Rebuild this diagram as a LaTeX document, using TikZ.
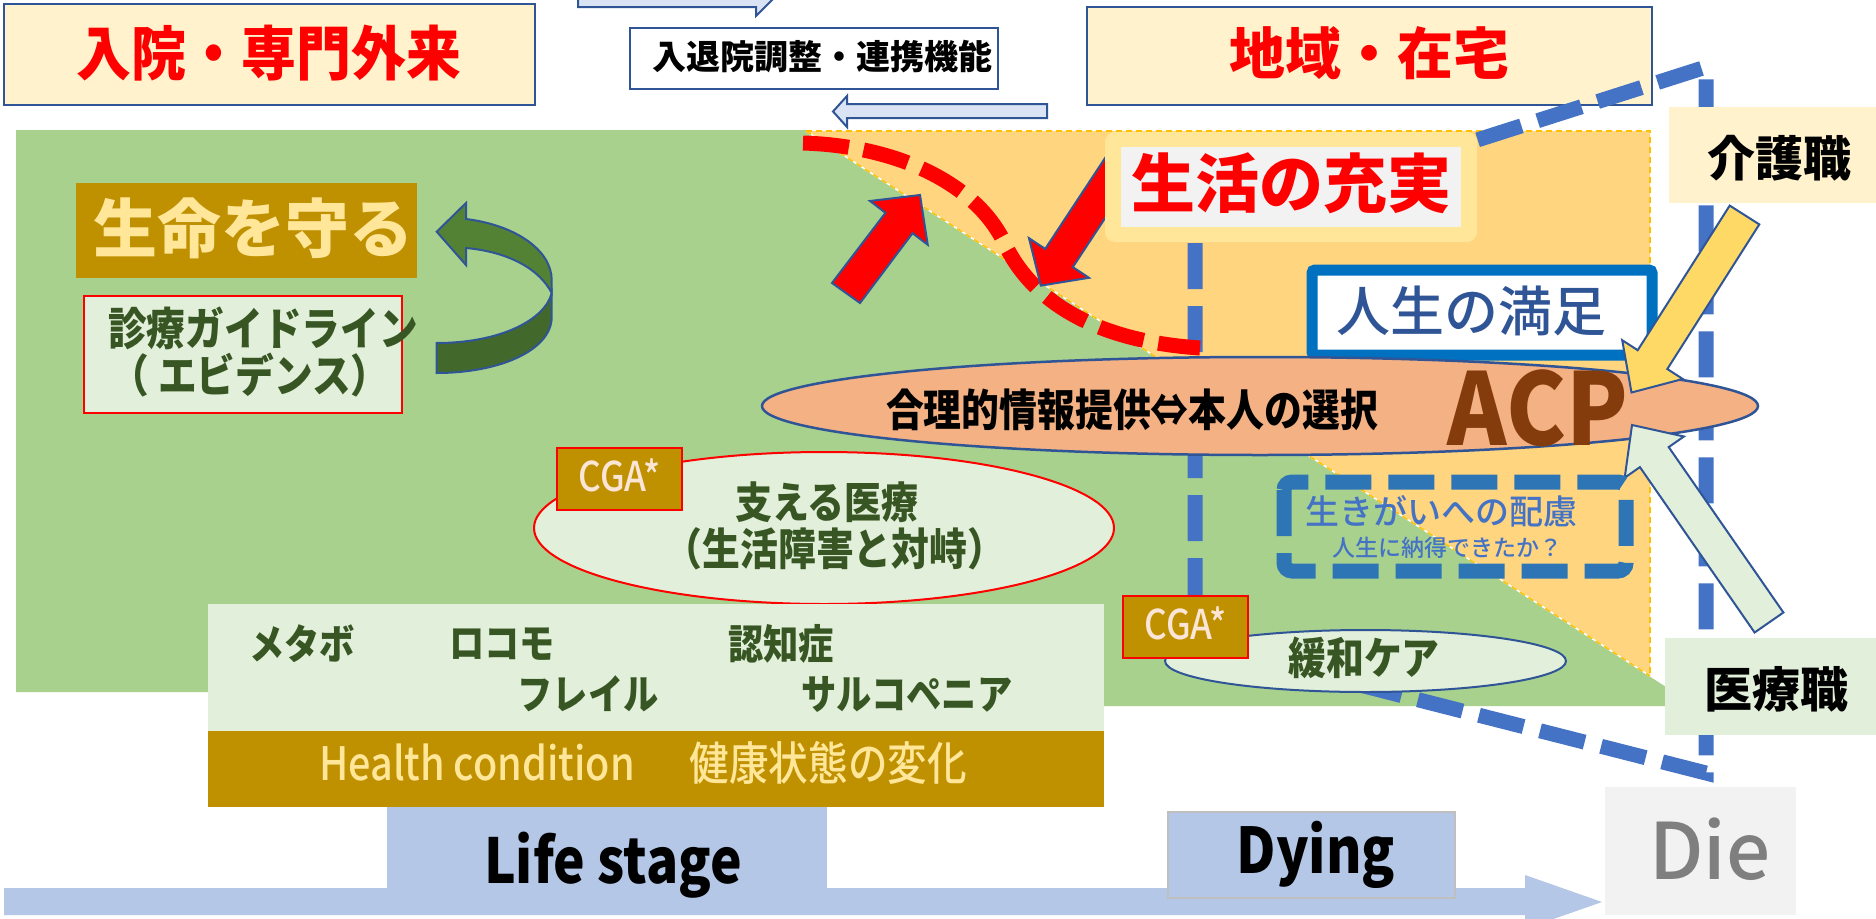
\documentclass[tikz,border=0pt]{standalone}
\usepackage{fontspec}
\usetikzlibrary{shapes.geometric}
\setmainfont{Noto Sans CJK JP}
\newfontfamily\jpc{Noto Sans CJK JP}[FakeStretch=0.86]
\newfontfamily\jpa{Noto Sans CJK JP}[FakeStretch=0.9]
\newfontfamily\jpw{Noto Sans CJK JP}[FakeStretch=0.93]
\newfontfamily\jpm{Noto Sans CJK JP Medium}
\newfontfamily\jpcm{Noto Sans CJK JP Medium}[FakeStretch=0.86]
\newcommand\myfs[1]{\fontsize{#1pt}{#1pt}\selectfont}
\definecolor{bordblue}{HTML}{2F5597}
\definecolor{cream}{HTML}{FFF2CC}
\definecolor{arrowblue}{HTML}{DAE3F3}
\definecolor{greenbg}{HTML}{A9D18E}
\definecolor{orangebg}{HTML}{FFD580}
\definecolor{yelborder}{HTML}{FFC000}
\definecolor{lifeyellow}{HTML}{FFE699}
\definecolor{lightgrey}{HTML}{F2F2F2}
\definecolor{satblue}{HTML}{0070C0}
\definecolor{acpfill}{HTML}{F4B183}
\definecolor{acptext}{HTML}{843C0C}
\definecolor{gold}{HTML}{BF9000}
\definecolor{palegreen}{HTML}{E2EFDA}
\definecolor{darkgreen}{HTML}{375623}
\definecolor{cgatext}{HTML}{FBE5D6}
\definecolor{dashblue}{HTML}{4472C4}
\definecolor{ikigai}{HTML}{2E75B6}
\definecolor{darrowa}{HTML}{548235}
\definecolor{darrowb}{HTML}{43682B}
\definecolor{yelarrow}{HTML}{FFD966}
\definecolor{timeline}{HTML}{B4C7E7}
\definecolor{diegrey}{HTML}{7F7F7F}
\definecolor{dyingborder}{HTML}{BFBFBF}
\tikzset{
  lbl/.style={inner sep=0pt, outer sep=0pt},
  tbox/.style={draw=bordblue, line width=2.5pt, fill=cream, inner sep=0pt},
  blockarrow/.style={draw=bordblue, line width=2pt, line join=miter},
  bluedash/.style={draw=dashblue, line width=15pt, dash pattern=on 46pt off 17pt, line join=miter},
  reddash/.style={draw=red, line width=15pt, dash pattern=on 46pt off 15pt},
  pell/.style={ellipse, inner sep=0pt, line width=2pt},
  cga/.style={fill=gold, draw=red, line width=2pt, inner sep=0pt, minimum width=125pt, minimum height=62pt},
}
\begin{document}
\begin{tikzpicture}[x=1pt,y=-1pt]
\useasboundingbox (0,0) rectangle (1876,918);
\fill[white] (0,0) rectangle (1876,918);
\begin{scope}
\clip (0,0) rectangle (1876,918);

% background regions
\fill[greenbg] (16,130) -- (806,130) -- (1666,687) -- (1666,706) -- (208,706) -- (208,692) -- (16,692) -- cycle;
\fill[orangebg] (806,131) -- (1650,131) -- (1650,676) -- cycle;
\draw[white, line width=1.5pt] (806,131) -- (1650,676);
\draw[yelborder, line width=1.5pt, dash pattern=on 6pt off 4pt] (806,131) -- (1650,131) -- (1650,676);
\draw[yelborder, line width=1.5pt, dash pattern=on 6pt off 4pt] (806,131) -- (1650,676);

% top boxes
\node[tbox, minimum width=531pt, minimum height=101pt] (hosp) at (269.5,54.5) {};
\node[lbl, font=\jpw\myfs{59}\bfseries, text=red] (hospT) at (269,53) {入院・専門外来};
\node[tbox, minimum width=565pt, minimum height=98pt] (region) at (1369.5,56) {};
\node[lbl, font=\myfs{56}\bfseries, text=red] (regionT) at (1369,53) {地域・在宅};
\node[draw=bordblue, line width=2pt, fill=white, inner sep=0pt, minimum width=368pt, minimum height=61pt] (coord) at (814,58.5) {};
\node[lbl, font=\myfs{34}\bfseries] (coordT) at (822,57) {入退院調整・連携機能};

% small arrows at top
\filldraw[blockarrow, fill=arrowblue] (578,-9) -- (756,-9) -- (756,-18) -- (773,-1) -- (756,16) -- (756,7) -- (578,7) -- cycle;
\filldraw[blockarrow, fill=arrowblue] (1047,104) -- (847,104) -- (847,96) -- (833,111.5) -- (847,127) -- (847,118) -- (1047,118) -- cycle;

% blue dashed trapezoid
\draw[bluedash] (1195,243) -- (1195,643) -- (1706,773) -- (1706,67) -- (1195,230);

% red dashed curve
\draw[reddash] (803,143) .. controls (900,146) and (975,185) .. (1003,240) .. controls (1025,290) and (1080,340) .. (1200,348);

% red block arrows
\filldraw[blockarrow, fill=red] (832,283) -- (885.5,212.8) -- (870,201) -- (920,195) -- (927.7,244.7) -- (912.5,233.2) -- (860,303) -- cycle;
\filldraw[blockarrow, fill=red] (1111.2,148.7) -- (1045.2,248.9) -- (1029,238.2) -- (1040.8,285.6) -- (1089,277.8) -- (1072.8,267.1) -- (1138.8,166.9) -- cycle;

% 生活の充実
\node[fill=lifeyellow, rounded corners=10pt, inner sep=0pt, minimum width=372pt, minimum height=110pt] (lifeOuter) at (1291,187) {};
\node[fill=lightgrey, inner sep=0pt, minimum width=340pt, minimum height=80pt] (lifeInner) at (1291,187) {};
\node[lbl, font=\myfs{64}\bfseries, text=red] (lifeT) at (1291,183) {生活の充実};

% 人生の満足
\node[draw=satblue, line width=11pt, fill=white, rounded corners=3pt, inner sep=0pt, minimum width=340pt, minimum height=85pt] (satisf) at (1482,312.5) {};
\node[lbl, font=\jpm\myfs{54}, text=bordblue] (satisfT) at (1471,311) {人生の満足};

% side boxes
\node[fill=cream, inner sep=0pt, minimum width=221pt, minimum height=96pt] (care) at (1779.5,155) {};
\node[lbl, font=\myfs{48}\bfseries] (careT) at (1779,158) {介護職};
\node[fill=palegreen, inner sep=0pt, minimum width=225pt, minimum height=97pt] (med) at (1777.5,686.5) {};
\node[lbl, font=\myfs{48}\bfseries] (medT) at (1776,689) {医療職};

% ACP ellipse
\node[pell, fill=acpfill, draw=bordblue, line width=2.5pt, minimum width=996pt, minimum height=98pt] (acp) at (1260,406) {};
\node[lbl, font=\jpc\myfs{44}\bfseries] (acpT) at (1132,410) {合理的情報提供⇔本人の選択};
\node[lbl, font=\jpa\myfs{100}\bfseries, text=acptext, anchor=base] (acpL) at (1538,445) {ACP};

% arrows to ACP
\filldraw[blockarrow, fill=yelarrow] (1729.7,205.6) -- (1637.7,350.2) -- (1622.2,340.2) -- (1631.5,392.5) -- (1682.8,379) -- (1667.3,369) -- (1759.3,224.4) -- cycle;
\filldraw[blockarrow, fill=palegreen] (1754.6,632.5) -- (1639.9,467.1) -- (1624.7,477.7) -- (1632,425) -- (1683.9,436.5) -- (1668.7,447.1) -- (1783.4,612.5) -- cycle;

% 生命を守る
\node[fill=gold, inner sep=0pt, minimum width=341pt, minimum height=95pt] (protect) at (246.5,230.5) {};
\node[lbl, font=\myfs{64}\bfseries, text=lifeyellow] (protectT) at (253,228) {生命を守る};

% guideline box
\node[fill=palegreen, draw=red, line width=2pt, inner sep=0pt, minimum width=318pt, minimum height=117pt] (guide) at (243,354.5) {};
\node[lbl, font=\jpc\myfs{45}\bfseries, text=darkgreen] (guideT1) at (263,328) {診療ガイドライン};
\node[lbl, font=\jpc\myfs{45}\bfseries, text=darkgreen] (guideT2) at (250,375) {（ エビデンス）};

% curved arrow
\filldraw[blockarrow, fill=darrowb] (551.7,293) -- (551.7,317) .. controls (551.7,350) and (500,373) .. (436.7,373) -- (436.7,343) .. controls (500,343) and (545,320) .. (551.7,293) -- cycle;
\filldraw[blockarrow, fill=darrowa] (466,219) -- (466,203) -- (436.7,231.7) -- (466,265) -- (466,248) .. controls (510,252) and (540,270) .. (551.7,293) -- (551.7,280) .. controls (551.7,250) and (515,225) .. (466,219) -- cycle;

% 支える医療
\node[pell, fill=palegreen, draw=red, minimum width=580pt, minimum height=152pt] (support) at (824,528) {};
\node[lbl, font=\jpc\myfs{43}\bfseries, text=darkgreen] (supportT1) at (827,502) {支える医療};
\node[lbl, font=\jpc\myfs{44}\bfseries, text=darkgreen] (supportT2) at (835,549) {（生活障害と対峙）};
\node[cga] (cga1) at (619.5,479) {};
\node[lbl, font=\jpcm\myfs{41}, text=cgatext, anchor=base] (cga1T) at (619.5,491) {CGA*};

% 生きがい
\draw[draw=ikigai, line width=15pt, dash pattern=on 46pt off 17pt, rounded corners=8pt] (1284,482) rectangle (1626,571);
\node[lbl, font=\jpm\myfs{34}, text=dashblue] (ikigaiT1) at (1441,511) {生きがいへの配慮};
\node[lbl, font=\jpm\myfs{23}, text=dashblue] (ikigaiT2) at (1447,548) {人生に納得できたか？};

% 緩和ケア
\node[pell, fill=palegreen, draw=bordblue, minimum width=401pt, minimum height=62pt] (palli) at (1365.5,661) {};
\node[lbl, font=\jpc\myfs{44}\bfseries, text=darkgreen] (palliT) at (1364,658) {緩和ケア};
\node[cga] (cga2) at (1185.5,627) {};
\node[lbl, font=\jpcm\myfs{41}, text=cgatext, anchor=base] (cga2T) at (1185.5,639) {CGA*};

% health condition
\node[fill=palegreen, inner sep=0pt, minimum width=896pt, minimum height=127pt] (hup) at (656,667.5) {};
\node[fill=gold, inner sep=0pt, minimum width=896pt, minimum height=76pt] (hlow) at (656,769) {};
\node[lbl, font=\jpc\myfs{41}\bfseries, text=darkgreen] (w1) at (302,644) {メタボ};
\node[lbl, font=\jpc\myfs{41}\bfseries, text=darkgreen] (w2) at (502,644) {ロコモ};
\node[lbl, font=\jpc\myfs{41}\bfseries, text=darkgreen] (w3) at (781,644) {認知症};
\node[lbl, font=\jpc\myfs{41}\bfseries, text=darkgreen] (w4) at (588,694) {フレイル};
\node[lbl, font=\jpc\myfs{41}\bfseries, text=darkgreen] (w5) at (907,694) {サルコペニア};
\node[lbl, font=\jpcm\myfs{46}, text=lifeyellow] (hT) at (643,763) {Health condition\hspace{55pt}健康状態の変化};

% timeline
\fill[timeline] (4,888) -- (1525,888) -- (1525,875) -- (1602,902) -- (1525,929) -- (1525,915) -- (4,915) -- cycle;
\node[fill=timeline, inner sep=0pt, minimum width=440pt, minimum height=82pt] (lifest) at (607,848) {};
\node[lbl, font=\jpc\myfs{62}\bfseries, anchor=base] (lifestT) at (613,883) {Life stage};
\node[fill=timeline, draw=dyingborder, line width=1.5pt, inner sep=0pt, minimum width=287pt, minimum height=86pt] (dying) at (1311.5,855) {};
\node[lbl, font=\jpc\myfs{63}\bfseries, anchor=base] (dyingT) at (1316,873) {Dying};
\node[fill=lightgrey, inner sep=0pt, minimum width=191pt, minimum height=128pt] (die) at (1700.5,851) {};
\node[lbl, font=\jpm\myfs{78}, text=diegrey, anchor=base] (dieT) at (1710,879) {Die};
\end{scope}
\end{tikzpicture}
\end{document}
